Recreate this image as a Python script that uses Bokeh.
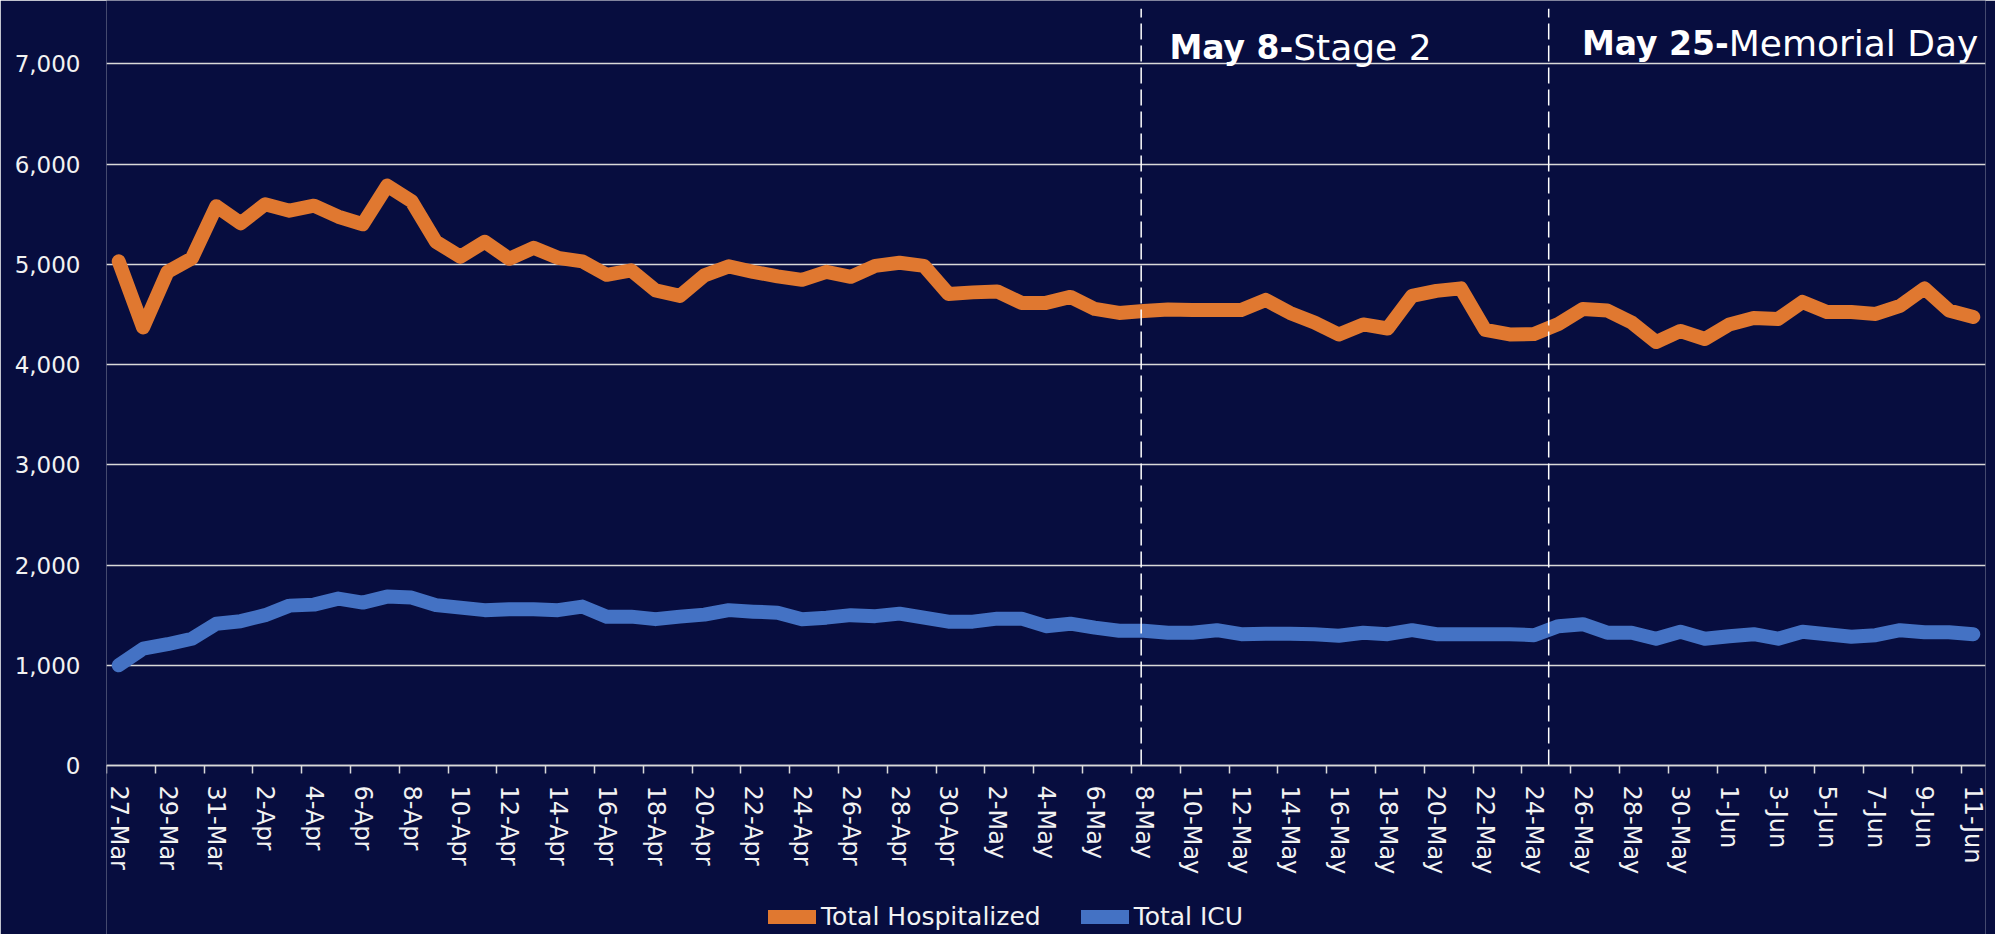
import pandas as pd
from bokeh.plotting import figure
from bokeh.models import (FixedTicker, NumeralTickFormatter, Label, Legend,
                          LegendItem, Range1d, ColumnDataSource)
from bokeh.embed import file_html
from bokeh.resources import INLINE

# ---------------- data ----------------
dates = list(pd.date_range("2020-03-27", "2020-06-11").strftime("%-d-%b"))

hospitalized = [5030, 4370, 4925, 5060, 5580, 5410, 5600, 5535, 5585, 5475,
                5400, 5785, 5630, 5225, 5075, 5225, 5055, 5165, 5065, 5030,
                4895, 4940, 4740, 4685, 4890, 4980, 4925, 4880, 4845, 4925,
                4875, 4985, 5015, 4985, 4705, 4720, 4730, 4615, 4615, 4675,
                4555, 4515, 4535, 4550, 4545, 4545, 4545, 4645, 4515, 4420,
                4300, 4400, 4360, 4685, 4735, 4760, 4345, 4300, 4305, 4405,
                4555, 4540, 4420, 4225, 4335, 4255, 4400, 4465, 4455, 4625,
                4525, 4525, 4505, 4585, 4760, 4540, 4475]

icu = [1000, 1165, 1210, 1265, 1415, 1440, 1500, 1595, 1605, 1665,
       1625, 1685, 1675, 1600, 1575, 1550, 1560, 1560, 1550, 1585,
       1485, 1485, 1460, 1485, 1505, 1550, 1535, 1525, 1460, 1475,
       1500, 1490, 1515, 1475, 1435, 1435, 1465, 1465, 1390, 1415,
       1375, 1345, 1345, 1325, 1325, 1350, 1310, 1315, 1315, 1310,
       1295, 1325, 1310, 1350, 1310, 1310, 1310, 1310, 1300, 1390,
       1410, 1325, 1325, 1265, 1335, 1265, 1290, 1310, 1265, 1335,
       1310, 1285, 1300, 1350, 1330, 1330, 1310]

y_ticks = [0, 1000, 2000, 3000, 4000, 5000, 6000, 7000]
series_names = ["Total Hospitalized", "Total ICU"]

# event markers (category position of dashed line), bold and plain text parts
event_pos = [41.9, 58.6]
event_bold = ["May 8-", "May 25-"]
event_text = ["Stage 2", "Memorial Day"]
event_text_y = [7168, 7202]
event_split_offset = [152, 180]

# ---------------- style ----------------
BG = "#070D3F"
ORANGE = "#E07830"
BLUE = "#4472C4"
GRID = "#D9D9D9"
TXT = "#F2F2F2"
FONT = "DejaVu Sans"

Y_TOP = 7632       # frame reaches the top of the canvas
Y_LINE_TOP = 7550  # top end of the dashed event lines
Y_BOTTOM = -1686   # room below the zero line for the date labels and legend

x = list(range(len(dates)))
src = ColumnDataSource(dict(x=x, hosp=hospitalized, icu=icu))
ev_src = ColumnDataSource(dict(x=event_pos, y0=[0] * len(event_pos),
                               y1=[Y_LINE_TOP] * len(event_pos)))

p = figure(width=1995, height=934, output_backend="svg", toolbar_location=None,
           x_range=Range1d(-0.5, len(dates) - 0.5),
           y_range=Range1d(Y_BOTTOM, Y_TOP),
           min_border_left=106, min_border_right=10, min_border_top=0,
           min_border_bottom=0)
p.background_fill_color = BG
p.border_fill_color = BG
p.outline_line_color = None

r1 = p.line("x", "hosp", source=src, line_color=ORANGE, line_width=14,
            line_join="round", line_cap="round")
r2 = p.line("x", "icu", source=src, line_color=BLUE, line_width=14,
            line_join="round", line_cap="round")

# dashed event lines from the zero line to the top
p.segment(x0="x", y0="y0", x1="x", y1="y1", source=ev_src, line_color="white",
          line_width=1.5, line_dash="16 6")

# x axis drawn at y = 0
major = list(range(0, len(dates), 2))
minor = [m - 0.5 for m in major if m - 0.5 < len(dates) - 1]
xa = p.xaxis[0]
xa.fixed_location = 0
xa.ticker = FixedTicker(ticks=major, minor_ticks=minor)
xa.major_label_overrides = {i: dates[i] for i in major}
xa.major_label_orientation = "vertical"
xa.major_tick_out = 0
xa.major_tick_in = 0
xa.minor_tick_out = 8
xa.minor_tick_in = 0
xa.minor_tick_line_color = GRID
xa.minor_tick_line_width = 1.5
xa.axis_line_color = GRID
xa.axis_line_width = 1.5
xa.major_label_standoff = 12
xa.major_label_text_font = FONT
xa.major_label_text_font_size = "24px"
xa.major_label_text_color = TXT

# y axis
ya = p.yaxis[0]
ya.ticker = FixedTicker(ticks=y_ticks)
ya.formatter = NumeralTickFormatter(format="0,0")
ya.major_tick_out = 0
ya.major_tick_in = 0
ya.minor_tick_line_color = None
ya.axis_line_color = None
ya.major_label_standoff = 26
ya.major_label_text_font = FONT
ya.major_label_text_font_size = "23px"
ya.major_label_text_color = TXT

p.xgrid.visible = False
p.ygrid.grid_line_color = GRID
p.ygrid.grid_line_width = 1.5

# event texts
for pos, b, t, ty, off in zip(event_pos, event_bold, event_text, event_text_y, event_split_offset):
    p.add_layout(Label(x=pos, y=ty, x_offset=off, text=b, text_align="right",
                       text_baseline="alphabetic", text_font=FONT,
                       text_font_style="bold", text_font_size="33px",
                       text_color="white"))
    p.add_layout(Label(x=pos, y=ty, x_offset=off, text=t, text_align="left",
                       text_baseline="alphabetic", text_font=FONT,
                       text_font_size="36px", text_color="white"))

legend = Legend(items=[LegendItem(label=series_names[0], renderers=[r1]),
                       LegendItem(label=series_names[1], renderers=[r2])],
                orientation="horizontal", location=(662, 3),
                background_fill_alpha=0, border_line_color=None,
                padding=0, margin=0, spacing=40, label_standoff=5,
                glyph_width=48, glyph_height=29,
                label_text_font=FONT, label_text_font_size="25px",
                label_text_color=TXT)
p.add_layout(legend)

open("out.html", "w").write(file_html(p, INLINE))
